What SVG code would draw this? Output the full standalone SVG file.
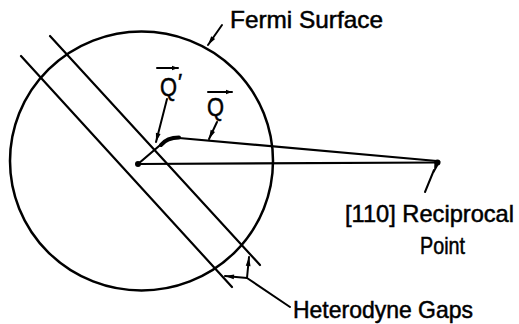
<svg xmlns="http://www.w3.org/2000/svg" width="519" height="324" viewBox="0 0 519 324">
<style>
.ln{fill:none;stroke:#000;stroke-width:2.2;stroke-linecap:round}
.ld{fill:none;stroke:#000;stroke-width:2;stroke-linecap:round}
.tx{font-family:"Liberation Sans",Arial,sans-serif;fill:#000;stroke:#000;stroke-width:0.5}
</style>
<defs>
<marker id="tip" markerUnits="userSpaceOnUse" viewBox="-10 -4 11 8" refX="0" refY="0" markerWidth="11" markerHeight="8" orient="auto">
<path d="M-9,-2.4 L0,0 L-9,2.4 z" fill="#000"/>
</marker>
<marker id="sa" markerUnits="userSpaceOnUse" viewBox="-7 -3 8 6" refX="0" refY="0" markerWidth="8" markerHeight="6" orient="auto">
<path d="M-6,-2.3 L0,0 L-6,2.3 z" fill="#000"/>
</marker>
</defs>
<g id="fermi-surface">
<ellipse cx="141.5" cy="161" rx="131.5" ry="129.5" fill="none" stroke="#000" stroke-width="2.5"/>
</g>
<g id="gap-lines">
<line class="ln" x1="21" y1="56" x2="232" y2="287"/>
<line class="ln" x1="50" y1="36" x2="260" y2="265"/>
</g>
<g id="origin">
<circle cx="138" cy="164" r="3"/>
</g>
<g id="reciprocal-point">
<path d="M434.5,160.5 L440.5,161.5 L434,173 z" fill="#000"/>
<circle cx="437.5" cy="162.5" r="3"/>
</g>
<g id="connectors">
<line class="ln" x1="138" y1="164" x2="437" y2="162.5"/>
<line class="ln" x1="138" y1="164" x2="162" y2="143.5"/>
<path d="M161,145 Q167,137.5 179,137.5" fill="none" stroke="#000" stroke-width="4" stroke-linecap="round"/>
<line class="ln" x1="179" y1="138" x2="437" y2="161"/>
<line class="ld" x1="222" y1="25" x2="208" y2="45" marker-end="url(#tip)"/>
<line class="ld" x1="167" y1="99" x2="156" y2="142" marker-end="url(#tip)"/>
<line class="ld" x1="217" y1="122" x2="209" y2="139" marker-end="url(#tip)"/>
<line class="ld" x1="425" y1="192" x2="434" y2="170"/>
<line class="ld" x1="290" y1="307" x2="247" y2="278"/>
<line class="ld" x1="247" y1="278" x2="249" y2="257" marker-end="url(#tip)"/>
<line class="ld" x1="247" y1="278" x2="225" y2="276" marker-end="url(#tip)"/>
<line class="ld" x1="157" y1="68" x2="178" y2="68" marker-end="url(#sa)"/>
<line class="ld" x1="208" y1="92" x2="232" y2="92" marker-end="url(#sa)"/>
</g>
<g id="labels">
<text class="tx" x="230" y="28" font-size="24" textLength="153" lengthAdjust="spacingAndGlyphs">Fermi Surface</text>
<text class="tx" x="160" y="95.5" font-size="25" textLength="17" lengthAdjust="spacingAndGlyphs">Q</text>
<text class="tx" x="178" y="89" font-size="22">′</text>
<text class="tx" x="207" y="115.5" font-size="25" textLength="17" lengthAdjust="spacingAndGlyphs">Q</text>
<text class="tx" x="345" y="222" font-size="24" textLength="169" lengthAdjust="spacingAndGlyphs">[110] Reciprocal</text>
<text class="tx" x="420" y="254" font-size="24" textLength="45" lengthAdjust="spacingAndGlyphs">Point</text>
<text class="tx" x="293" y="318" font-size="24" textLength="180" lengthAdjust="spacingAndGlyphs">Heterodyne Gaps</text>
</g>
</svg>
